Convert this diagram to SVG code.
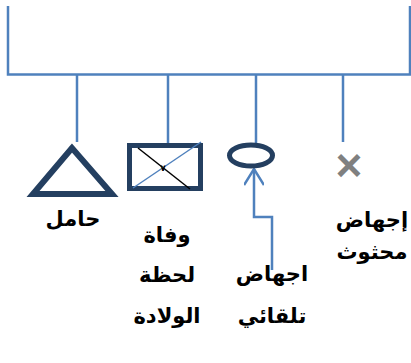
<svg xmlns="http://www.w3.org/2000/svg" width="411" height="363" viewBox="0 0 411 363">
<defs>
<style>
.ln{stroke:#4F81BD;stroke-width:2.5;fill:none}
.shape{stroke:#243F60;fill:none}
.lbl{font-family:"DejaVu Sans","Liberation Sans",sans-serif;font-weight:bold;font-size:21px;fill:#000;text-anchor:middle}
</style>
<marker id="open" viewBox="0 0 20 20" refX="18" refY="10" markerWidth="20" markerHeight="20" markerUnits="userSpaceOnUse" orient="auto">
<path d="M2 0 L18 10 L2 20" fill="none" stroke="#4F81BD" stroke-width="2.5"/>
</marker>
</defs>
<rect width="411" height="363" fill="#fff"/>
<g id="connectors">
<path class="ln" d="M8 6 V74.5 H410 V6"/>
<path class="ln" d="M77 74.5 V142"/>
<path class="ln" d="M168 74.5 V143"/>
<path class="ln" d="M256 74.5 V144"/>
<path class="ln" d="M343 74.5 V142"/>
<path class="ln" d="M272 270 V217 H254 V169" marker-end="url(#open)"/>
</g>
<g id="node-pregnant">
<path class="shape" stroke-width="6" d="M72 148 L33 194 L112 194 Z" stroke-linejoin="miter"/>
<text class="lbl" x="73" y="226">حامل</text>
</g>
<g id="node-death-at-birth">
<rect class="shape" x="129.5" y="145.5" width="71" height="43" stroke-width="5"/>
<line x1="138" y1="148" x2="190" y2="189" stroke="#000" stroke-width="1.5"/>
<line x1="133" y1="188" x2="201" y2="142" stroke="#4F81BD" stroke-width="1.5"/>
<text x="163" y="171" font-family="DejaVu Sans,sans-serif" font-size="9" font-weight="bold" text-anchor="middle">٧</text>
<text class="lbl" x="167" y="242">وفاة</text>
<text class="lbl" x="167" y="282">لحظة</text>
<text class="lbl" x="167" y="323">الولادة</text>
</g>
<g id="node-spontaneous-abortion">
<ellipse class="shape" cx="251" cy="155.5" rx="21.5" ry="10.5" stroke-width="5"/>
<text class="lbl" x="272" y="281">اجهاض</text>
<text class="lbl" x="272" y="323">تلقائي</text>
</g>
<g id="node-induced-abortion">
<text x="349" y="181" font-family="Liberation Sans,sans-serif" font-size="46" font-weight="bold" fill="#808080" text-anchor="middle">×</text>
<text class="lbl" x="372" y="227">إجهاض</text>
<text class="lbl" x="372" y="259">محثوث</text>
</g>
</svg>
